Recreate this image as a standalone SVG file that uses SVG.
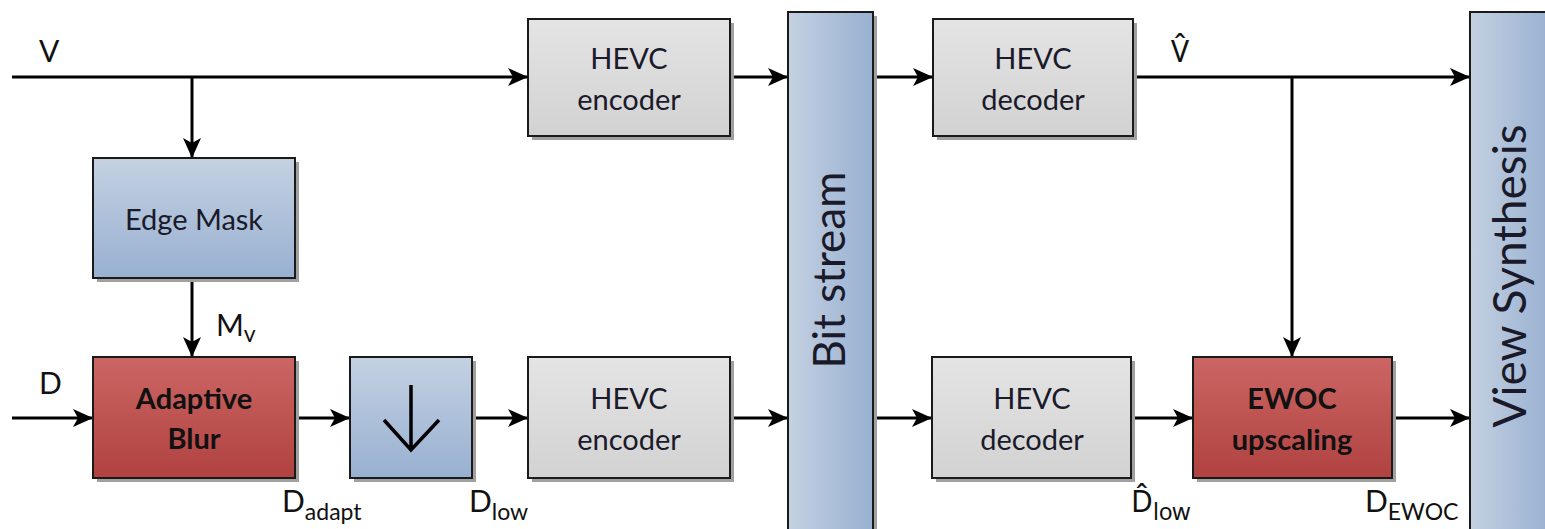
<svg xmlns="http://www.w3.org/2000/svg" width="1545" height="529" viewBox="0 0 1545 529">
<defs>
<linearGradient id="gGray" x1="0" y1="0" x2="0" y2="1"><stop offset="0" stop-color="#e4e4e4"/><stop offset="1" stop-color="#d2d2d2"/></linearGradient>
<linearGradient id="gBlue" x1="0" y1="0" x2="0" y2="1"><stop offset="0" stop-color="#c4d1e2"/><stop offset="1" stop-color="#98b0d1"/></linearGradient>
<linearGradient id="gBlueH" x1="0" y1="0" x2="1" y2="0"><stop offset="0" stop-color="#c4d1e2"/><stop offset="1" stop-color="#98b0d1"/></linearGradient>
<linearGradient id="gRed" x1="0" y1="0" x2="0" y2="1"><stop offset="0" stop-color="#cb6664"/><stop offset="1" stop-color="#b04240"/></linearGradient>
<marker id="arr" markerUnits="userSpaceOnUse" markerWidth="22" markerHeight="20" refX="20" refY="10" orient="auto">
<path d="M0,1 L20,10 L0,19 L5,10 z" fill="#000"/>
</marker>
</defs>
<style>
.box{stroke:#1a1a1a;stroke-width:2}
.sh{fill:#a0a0a0}
.t{font-family:Lato,"Noto Sans",sans-serif;font-size:29px;fill:#1a1a2a;text-anchor:middle;dominant-baseline:central}
.b{font-weight:bold;fill:#111}
.lbl{font-family:Lato,"Noto Sans",sans-serif;font-size:30px;fill:#111}
.sub{font-size:23px}
.ca{stroke:#000;stroke-width:3;fill:none;marker-end:url(#arr)}
</style>

<g id="connectors">
<line class="ca" x1="12" y1="77" x2="528" y2="77"/>
<line class="ca" x1="192" y1="77" x2="192" y2="158"/>
<line class="ca" x1="192" y1="278" x2="192" y2="357"/>
<line class="ca" x1="12" y1="418" x2="93" y2="418"/>
<line class="ca" x1="295" y1="418" x2="350" y2="418"/>
<line class="ca" x1="472" y1="418" x2="528" y2="418"/>
<line class="ca" x1="730" y1="77" x2="788" y2="77"/>
<line class="ca" x1="730" y1="418" x2="788" y2="418"/>
<line class="ca" x1="873" y1="77" x2="933" y2="77"/>
<line class="ca" x1="873" y1="418" x2="932" y2="418"/>
<line class="ca" x1="1133" y1="77" x2="1470" y2="77"/>
<line class="ca" x1="1292" y1="77" x2="1292" y2="357"/>
<line class="ca" x1="1131" y1="418" x2="1193" y2="418"/>
<line class="ca" x1="1392" y1="418" x2="1470" y2="418"/>
</g>

<g id="edge-mask">
<rect class="sh" x="97" y="162" width="202" height="120"/>
<rect class="box" x="93" y="158" width="202" height="120" fill="url(#gBlue)"/>
<text class="t" x="194" y="218">Edge Mask</text>
</g>

<g id="adaptive-blur">
<rect class="sh" x="97" y="361" width="202" height="121"/>
<rect class="box" x="93" y="357" width="202" height="121" fill="url(#gRed)"/>
<text class="t b" x="194" y="397">Adaptive</text>
<text class="t b" x="194" y="437">Blur</text>
</g>

<g id="downsample">
<rect class="sh" x="354" y="361" width="122" height="121"/>
<rect class="box" x="350" y="357" width="122" height="121" fill="url(#gBlue)"/>
<path d="M411,385 V450 M384,420 L411,450 L439,420" stroke="#000" stroke-width="3.5" fill="none"/>
</g>

<g id="hevc-encoder-top">
<rect class="sh" x="532" y="23" width="202" height="117"/>
<rect class="box" x="528" y="19" width="202" height="117" fill="url(#gGray)"/>
<text class="t" x="629" y="57">HEVC</text>
<text class="t" x="629" y="98">encoder</text>
</g>

<g id="hevc-encoder-bottom">
<rect class="sh" x="532" y="361" width="202" height="121"/>
<rect class="box" x="528" y="357" width="202" height="121" fill="url(#gGray)"/>
<text class="t" x="629" y="397">HEVC</text>
<text class="t" x="629" y="438">encoder</text>
</g>

<g id="bit-stream">
<rect class="sh" x="792" y="16" width="85" height="520"/>
<rect class="box" x="788" y="12" width="85" height="520" fill="url(#gBlueH)"/>
<text class="t" style="font-size:44px" transform="translate(828,270) rotate(-90)">Bit stream</text>
</g>

<g id="hevc-decoder-top">
<rect class="sh" x="937" y="23" width="200" height="117"/>
<rect class="box" x="933" y="19" width="200" height="117" fill="url(#gGray)"/>
<text class="t" x="1033" y="57">HEVC</text>
<text class="t" x="1033" y="98">decoder</text>
</g>

<g id="hevc-decoder-bottom">
<rect class="sh" x="936" y="361" width="199" height="121"/>
<rect class="box" x="932" y="357" width="199" height="121" fill="url(#gGray)"/>
<text class="t" x="1032" y="397">HEVC</text>
<text class="t" x="1032" y="438">decoder</text>
</g>

<g id="ewoc">
<rect class="sh" x="1197" y="361" width="199" height="121"/>
<rect class="box" x="1193" y="357" width="199" height="121" fill="url(#gRed)"/>
<text class="t b" x="1292" y="397">EWOC</text>
<text class="t b" x="1292" y="438">upscaling</text>
</g>

<g id="view-synthesis">
<rect class="sh" x="1474" y="16" width="80" height="520"/>
<rect class="box" x="1470" y="12" width="80" height="520" fill="url(#gBlueH)"/>
<text class="t" style="font-size:46px" transform="translate(1508,276) rotate(-90)">View Synthesis</text>
</g>

<g id="labels">
<text class="lbl" x="39" y="62">V</text>
<text class="lbl" x="39" y="394">D</text>
<text class="lbl" x="216" y="336">M<tspan class="sub" dy="6">v</tspan></text>
<text class="lbl" x="282" y="512">D<tspan class="sub" dy="8">adapt</tspan></text>
<text class="lbl" x="469" y="512">D<tspan class="sub" dy="8">low</tspan></text>
<text class="lbl" x="1171" y="62" style="font-family:'Noto Sans',sans-serif">V̂</text>
<text class="lbl" x="1131" y="512" style="font-family:'Noto Sans',sans-serif">D̂<tspan class="sub" dy="8">low</tspan></text>
<text class="lbl" x="1365" y="512">D<tspan class="sub" dy="8">EWOC</tspan></text>
</g>
</svg>
